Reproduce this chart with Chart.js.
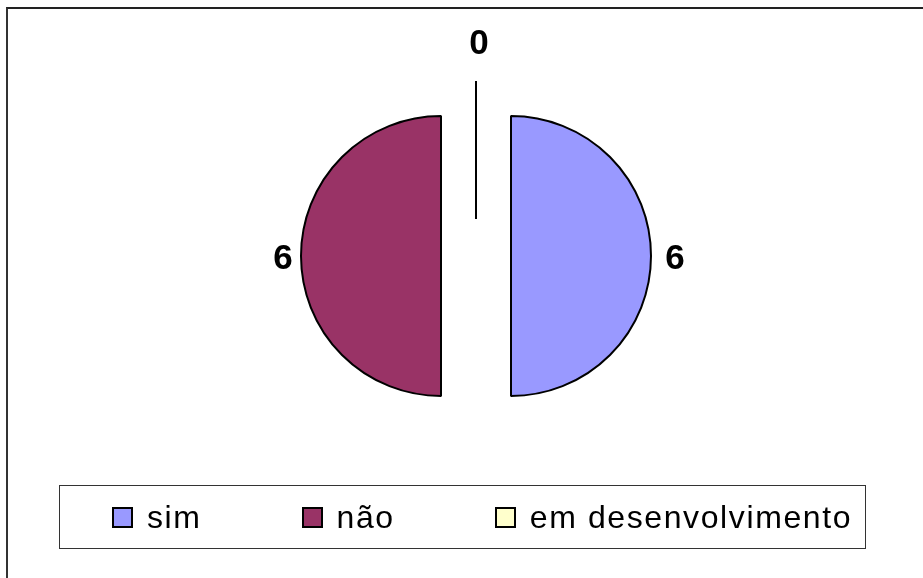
<!DOCTYPE html>
<html>
<head>
<meta charset="utf-8">
<script src="https://cdn.jsdelivr.net/npm/chart.js@4"></script>
<style>
  html, body { margin: 0; padding: 0; background: #fff; overflow: hidden; }
  #wrap { position: relative; width: 923px; height: 578px; }
  #frame {
    position: absolute; left: 6px; top: 7px; width: 1000px; height: 700px;
    border-left: 2px solid #333; border-top: 2px solid #222;
  }
  canvas { position: absolute; left: 0; top: 0; }
  #legend {
    position: absolute; left: 59px; top: 485px; width: 807px; height: 64px;
    border: 1px solid #333; display: flex; align-items: center;
    padding-left: 52px; box-sizing: border-box; white-space: nowrap;
    font-family: "Liberation Sans", Arial, sans-serif; font-size: 32px;
    letter-spacing: 1.6px; color: #000;
  }
  #legend .item { display: flex; align-items: center; margin-right: 100px; }
  #legend .sw { width: 17px; height: 17px; border: 2px solid #000; margin-right: 14px; flex: none; }
</style>
</head>
<body>
<div id="wrap">
  <div id="frame"></div>
  <canvas id="chart" width="923" height="578"></canvas>
  <div id="legend"></div>
</div>
<script>
const categories = ['sim', 'não', 'em desenvolvimento'];
const values = [6, 6, 0];
const colors = ['#9999FF', '#993366', '#FFFFCC'];

// html legend, built from the arrays
const legendEl = document.getElementById('legend');
categories.forEach((name, i) => {
  const item = document.createElement('div');
  item.className = 'item';
  const sw = document.createElement('span');
  sw.className = 'sw';
  sw.style.background = colors[i];
  const txt = document.createElement('span');
  txt.textContent = name;
  item.appendChild(sw);
  item.appendChild(txt);
  legendEl.appendChild(item);
});

const EXPLODE = 35;

// draw each slice pulled out from the centre
const explodePlugin = {
  id: 'explode',
  beforeDatasetDraw(chart, args) {
    const ctx = chart.ctx;
    args.meta.data.forEach(arc => {
      if (arc.circumference === 0) return;
      const mid = (arc.startAngle + arc.endAngle) / 2;
      ctx.save();
      ctx.translate(Math.cos(mid) * EXPLODE, Math.sin(mid) * EXPLODE);
      arc.draw(ctx, chart.chartArea);
      ctx.restore();
    });
    return false;
  }
};

// value labels outside the slices
const labelPlugin = {
  id: 'valueLabels',
  afterDatasetsDraw(chart) {
    const ctx = chart.ctx;
    const meta = chart.getDatasetMeta(0);
    const fontSize = 35;
    ctx.save();
    ctx.font = 'bold ' + fontSize + 'px "Liberation Sans", Arial, sans-serif';
    ctx.fillStyle = '#000';
    ctx.strokeStyle = '#000';
    ctx.textAlign = 'center';
    ctx.textBaseline = 'alphabetic';
    meta.data.forEach((arc, i) => {
      const mid = (arc.startAngle + arc.endAngle) / 2;
      const cx = arc.x + Math.cos(mid) * EXPLODE;
      const cy = arc.y + Math.sin(mid) * EXPLODE;
      const r = arc.outerRadius;
      let d = r + 21;
      if (values[i] === 0) {
        ctx.lineWidth = 2;
        ctx.beginPath();
        ctx.moveTo(cx + Math.cos(mid) * 2, cy + Math.sin(mid) * 2);
        ctx.lineTo(cx + Math.cos(mid) * r, cy + Math.sin(mid) * r);
        ctx.stroke();
        d = r + 40;
      }
      const lx = cx + Math.cos(mid) * d;
      const ly = cy + Math.sin(mid) * d;
      ctx.fillText(String(values[i]), lx + 3, ly + fontSize * 0.36);
    });
    ctx.restore();
  }
};

const ctx = document.getElementById('chart').getContext('2d');
const chart = new Chart(ctx, {
  type: 'pie',
  data: {
    labels: categories,
    datasets: [{
      data: values,
      backgroundColor: colors,
      borderColor: '#000',
      borderWidth: 2,
      radius: 140
    }]
  },
  options: {
    responsive: false,
    animation: false,
    events: [],
    layout: { padding: { left: 29, right: 0, top: 0, bottom: 66 } },
    plugins: {
      legend: { display: false },
      tooltip: { enabled: false }
    }
  },
  plugins: [explodePlugin, labelPlugin]
});
</script>
</body>
</html>
